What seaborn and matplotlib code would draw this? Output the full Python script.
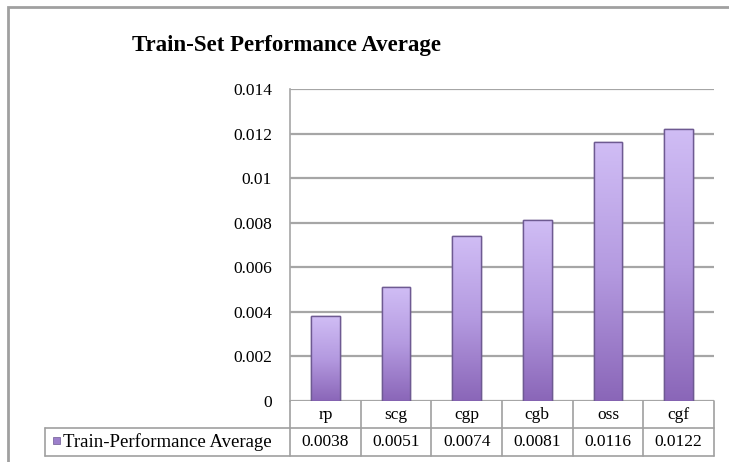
import numpy as np
import pandas as pd
import matplotlib
matplotlib.use("Agg")
import matplotlib.pyplot as plt
from matplotlib.colors import LinearSegmentedColormap
from matplotlib.patches import Rectangle
import seaborn as sns

categories = ["rp", "scg", "cgp", "cgb", "oss", "cgf"]
values = [0.0038, 0.0051, 0.0074, 0.0081, 0.0116, 0.0122]
series_name = "Train-Performance Average"
value_labels = ["0.0038", "0.0051", "0.0074", "0.0081", "0.0116", "0.0122"]
yticks = [0, 0.002, 0.004, 0.006, 0.008, 0.01, 0.012, 0.014]
ytick_labels = ["0", "0.002", "0.004", "0.006", "0.008", "0.01", "0.012", "0.014"]

df = pd.DataFrame({"method": categories, "value": values})

sns.set_style("white")
plt.rcParams["font.family"] = ["Liberation Serif", "DejaVu Serif"]
plt.rcParams["text.color"] = "black"
plt.rcParams["ytick.color"] = "black"

W, H = 729, 462
fig = plt.figure(figsize=(W / 100, H / 100), dpi=100)

def px(x0, y0, x1, y1):
    # pixel box -> figure fraction [left, bottom, width, height]
    return [x0 / W, 1 - y1 / H, (x1 - x0) / W, (y1 - y0) / H]

ax = fig.add_axes(px(290, 89, 714, 401))

grid_col = "#A6A6A6"
sns.barplot(data=df, x="method", y="value", ax=ax, width=0.41,
            color="#A98BD6", edgecolor="#6E5A92", linewidth=1.0, zorder=3)

# vertical gradient in each bar
grad = LinearSegmentedColormap.from_list("bar", ["#8A66B8", "#B49AE0", "#D0BDF5"])
g = np.linspace(0, 1, 256).reshape(-1, 1)
for p in ax.patches:
    x0, y0 = p.get_x(), p.get_y()
    w, h = p.get_width(), p.get_height()
    im = ax.imshow(g, cmap=grad, origin="lower", aspect="auto",
                   extent=[x0, x0 + w, y0, y0 + h], zorder=3.5)
    im.set_clip_path(p)
    ax.add_patch(Rectangle((x0, y0), w, h, fill=False, edgecolor="#6E5A92",
                           linewidth=1.0, zorder=4))

ax.set_xlim(-0.5, len(categories) - 0.5)
ax.set_ylim(0, 0.014)
ax.set_yticks(yticks)
ax.set_yticklabels(ytick_labels, fontsize=12.5)
ax.tick_params(axis="y", length=0, pad=13)
ax.set_xticks([])
ax.set_xlabel("")
ax.set_ylabel("")
ax.yaxis.grid(True, color=grid_col, linewidth=1.6, zorder=0)
ax.set_axisbelow(True)
for s in ["top", "right", "bottom"]:
    ax.spines[s].set_visible(False)
ax.spines["left"].set_color(grid_col)
ax.spines["left"].set_linewidth(1.2)

# data table below the plot
tab_col = "#A0A0A0"
ta = fig.add_axes(px(45, 401, 714, 456))
ta.set_xlim(45, 714)
ta.set_ylim(456, 401)
ta.axis("off")
col_w = (714 - 290) / len(categories)
edges = [290 + i * col_w for i in range(len(categories) + 1)]
kw = dict(color=tab_col, linewidth=1.2, clip_on=False)
ta.plot([290, 714], [428, 428], **kw)
ta.plot([45, 714], [456, 456], **kw)
ta.plot([45, 290], [428, 428], **kw)
ta.plot([45, 45], [428, 456], **kw)
for e in edges:
    ta.plot([e, e], [401, 456], **kw)
for i, (c, v) in enumerate(zip(categories, value_labels)):
    xc = (edges[i] + edges[i + 1]) / 2
    ta.text(xc, 415, c, ha="center", va="center", fontsize=12.5)
    ta.text(xc, 442.5, v, ha="center", va="center", fontsize=12.5)
ta.add_patch(Rectangle((53, 437), 7, 7, facecolor="#9C7FCB", edgecolor="#6E5A92",
                       linewidth=0.5, clip_on=False))
ta.text(63, 442.5, series_name, ha="left", va="center", fontsize=13.5)

# title
fig.text(286 / W, 1 - 45 / H, "Train-Set Performance Average", ha="center",
         va="center", fontsize=16.5, fontweight="bold", color="black")

# outer chart frame (right and bottom edges fall outside the picture)
fig.add_artist(Rectangle((7.5 / W, -0.1), 1, 1.1 - 7 / H, transform=fig.transFigure,
                         fill=False, edgecolor="#A0A0A0", linewidth=2))

fig.savefig("out.png", dpi=100)
